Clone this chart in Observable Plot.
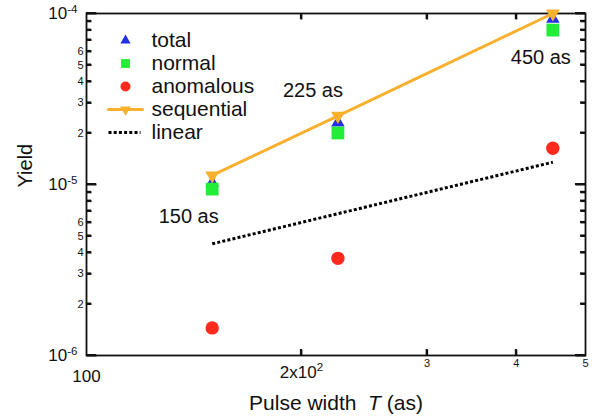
<!DOCTYPE html>
<html><head><meta charset="utf-8">
<script src="https://cdn.jsdelivr.net/npm/d3@7"></script>
<script src="https://cdn.jsdelivr.net/npm/@observablehq/plot@0.6"></script>
<style>
body{margin:0;background:#fff;}
#chart svg{font-family:"Liberation Sans",Arial,Helvetica,sans-serif;}
</style>
</head><body><div id="chart"></div>
<script>
// ---- data ----
const pulseWidths = [150, 225, 450];
const totalYield = [1.02e-5, 2.3e-5, 9.3e-5];
const normalYield = [9.4e-6, 2.0e-5, 8.0e-5];
const anomalousYield = [1.45e-6, 3.7e-6, 1.63e-5];
const sequentialYield = [1.13e-5, 2.52e-5, 1.0e-4];
const linearPulse = [150, 450];
const linearYield = [4.5e-6, 1.35e-5];
const pointLabels = ["150 as", "225 as", "450 as"];
const legendNames = ["total", "normal", "anomalous", "sequential", "linear"];

// ---- ticks ----
const yMajorTicks = [1e-6, 1e-5, 1e-4];
const yMajorLabels = ["10^-6", "10^-5", "10^-4"];
const yMinorDigits = [2, 3, 4, 5, 6, 7, 8, 9];
const yLabeledDigits = [2, 3, 4, 5, 6];
const xInnerTicks = [200, 300, 400];
const xTickValues = [100, 200, 300, 400, 500];
const xTickLabels = ["100", "2x10^2", "3", "4", "5"];

const rows = (xs, ys) => xs.map((x, i) => ({x, y: ys[i]}));
const total = rows(pulseWidths, totalYield);
const normal = rows(pulseWidths, normalYield);
const anomalous = rows(pulseWidths, anomalousYield);
const sequential = rows(pulseWidths, sequentialYield);
const linear = rows(linearPulse, linearYield);
const labels = pointLabels.map((t, i) => ({x: pulseWidths[i], y: totalYield[i], t}));

const yMinorTicks = [1e-6, 1e-5].flatMap(d => yMinorDigits.map(m => d * m));
const yLabeledTicks = [1e-6, 1e-5].flatMap(d => yLabeledDigits.map(m => d * m));

const blue = "#2230e8", green = "#22ee3a", red = "#ff2a1c", orange = "#f9b02e", ink = "#111111";
const fmtMajor = d => yMajorLabels[yMajorTicks.findIndex(v => Math.abs(v - d) / v < 1e-6)];
const fmtDigit = d => String(Math.round(d / Math.pow(10, Math.floor(Math.log10(d) + 1e-9))));
const fmtX = d => xTickLabels[xTickValues.indexOf(d)];

const lineShape = {draw(ctx, l) { ctx.moveTo(0, 0); ctx.lineTo(0, -l); }};
const inTick = (data, ch, side, len) => Plot.vector(data, {
  [ch]: d => d, frameAnchor: side, length: len, anchor: "start", shape: lineShape,
  rotate: {left: 90, right: -90, bottom: 0, top: 180}[side],
  stroke: ink, strokeWidth: 2, strokeLinecap: "butt"
});
const labelOffsets = [[-23.5, 33.5], [-25, -32], [-12, 39]];
const legendRowDy = [27, 50, 73, 96, 119];

const marks = [
  Plot.frame({stroke: ink, strokeWidth: 1.8}),
  // inward ticks on all four sides
  inTick(yMajorTicks, "y", "left", 10),
  inTick(yMinorTicks, "y", "left", 5),
  inTick(yMajorTicks, "y", "right", 10),
  inTick(yMinorTicks, "y", "right", 5),
  inTick(xInnerTicks, "x", "bottom", 6),
  inTick(xInnerTicks, "x", "top", 6),
  // tick labels
  Plot.text(yMajorTicks, {y: d => d, text: fmtMajor, frameAnchor: "left", textAnchor: "end", dx: -9, fontSize: 17, fill: ink}),
  Plot.text(yLabeledTicks, {y: d => d, text: fmtDigit, frameAnchor: "left", textAnchor: "end", dx: -3, fontSize: 11, fill: ink}),
  Plot.text([100], {x: d => d, text: fmtX, frameAnchor: "bottom", lineAnchor: "top", dy: 14, fontSize: 17, fill: ink}),
  Plot.text([200], {x: d => d, text: fmtX, frameAnchor: "bottom", lineAnchor: "top", dy: 10, fontSize: 17, fill: ink}),
  Plot.text([300, 400, 500], {x: d => d, text: fmtX, frameAnchor: "bottom", lineAnchor: "top", dy: 4, fontSize: 11, fill: ink}),
  // axis titles
  Plot.text(["Yield"], {frameAnchor: "left", dx: -61, dy: 3, rotate: -90, fontSize: 20, fill: ink}),
  Plot.text(["Pulse width\u00a0 |T| (as)"], {frameAnchor: "bottom", dy: 48, lineAnchor: "middle", fontSize: 21, fill: ink}),
  // data
  Plot.dot(total, {x: "x", y: "y", symbol: "triangle", r: 5, fill: blue}),
  Plot.dot(normal, {x: "x", y: "y", symbol: "square", r: 7.2, fill: green}),
  Plot.dot(anomalous, {x: "x", y: "y", symbol: "circle", r: 6.7, fill: red}),
  Plot.line(sequential, {x: "x", y: "y", stroke: orange, strokeWidth: 3}),
  Plot.dot(sequential, {x: "x", y: "y", symbol: "triangle", rotate: 180, r: 5.2, fill: orange}),
  Plot.line(linear, {x: "x", y: "y", stroke: "#000", strokeWidth: 3, strokeDasharray: "3,2.2", strokeLinecap: "butt"}),
  ...labels.map((d, i) => Plot.text([d], {x: "x", y: "y", text: "t", dx: labelOffsets[i][0], dy: labelOffsets[i][1], fontSize: 20, fill: ink})),
  // legend
  ...legendNames.map((name, i) => Plot.text([name], {frameAnchor: "top-left", lineAnchor: "middle", dx: 65, dy: legendRowDy[i], textAnchor: "start", fontSize: 21, fill: ink})),
  Plot.dot([0], {frameAnchor: "top-left", dx: 39, dy: legendRowDy[0], symbol: "triangle", r: 3.8, fill: blue}),
  Plot.dot([0], {frameAnchor: "top-left", dx: 39, dy: legendRowDy[1], symbol: "square", r: 5, fill: green}),
  Plot.dot([0], {frameAnchor: "top-left", dx: 39, dy: legendRowDy[2], symbol: "circle", r: 5, fill: red}),
  Plot.vector([0], {frameAnchor: "top-left", dx: 39, dy: legendRowDy[3], length: 34, rotate: 90, anchor: "middle", shape: lineShape, stroke: orange, strokeWidth: 3}),
  Plot.dot([0], {frameAnchor: "top-left", dx: 39, dy: legendRowDy[3], symbol: "triangle", rotate: 180, r: 4, fill: orange}),
  Plot.vector([0], {frameAnchor: "top-left", dx: 38, dy: legendRowDy[4], length: 32, rotate: 90, anchor: "middle", shape: lineShape, stroke: "#000", strokeWidth: 3, strokeDasharray: "3,2.2", strokeLinecap: "butt"})
];

const chart = Plot.plot({
  width: 597,
  height: 420,
  marginLeft: 86,
  marginRight: 12,
  marginTop: 13,
  marginBottom: 65,
  style: {background: "#fff", fontFamily: "'Liberation Sans', Arial, sans-serif"},
  x: {type: "log", domain: [100, 500], axis: null},
  y: {type: "log", domain: [1e-6, 1e-4], axis: null},
  marks
});

// extra copy of the inward ticks, positioned through the chart's own scales
const svgEl = chart.tagName.toLowerCase() === "svg" ? chart : chart.querySelector("svg");
const sx = chart.scale("x"), sy = chart.scale("y");
const [x0, x1] = sx.range, [y0, y1] = sy.range;
const tg = d3.select(svgEl).append("g").attr("aria-label", "inward ticks")
  .attr("stroke", ink).attr("stroke-width", 2).attr("fill", "none");
const hTick = (vals, len) => vals.forEach(v => {
  const y = sy.apply(v);
  tg.append("line").attr("x1", x0).attr("x2", x0 + len).attr("y1", y).attr("y2", y);
  tg.append("line").attr("x1", x1).attr("x2", x1 - len).attr("y1", y).attr("y2", y);
});
const vTick = (vals, len) => vals.forEach(v => {
  const x = sx.apply(v);
  tg.append("line").attr("x1", x).attr("x2", x).attr("y1", y0).attr("y2", y0 - len);
  tg.append("line").attr("x1", x).attr("x2", x).attr("y1", y1).attr("y2", y1 + len);
});
hTick(yMajorTicks, 10);
hTick(yMinorTicks, 5);
vTick(xInnerTicks, 6);

// superscripts and italic letters as real text (tspans)
d3.select(svgEl).selectAll("text").each(function () {
  const t = this.textContent;
  const sel = d3.select(this);
  if (t.includes("^")) {
    const [base, sup] = t.split("^");
    sel.text(null);
    sel.append("tspan").text(base);
    sel.append("tspan").attr("dy", "-0.55em").attr("font-size", "0.68em").text(sup);
  } else if (t.includes("|")) {
    const parts = t.split("|");
    sel.text(null);
    parts.forEach((p, i) => {
      const ts = sel.append("tspan").text(p);
      if (i % 2 === 1) ts.attr("font-style", "italic");
    });
  }
});

document.getElementById("chart").appendChild(chart);
</script>
</body></html>
